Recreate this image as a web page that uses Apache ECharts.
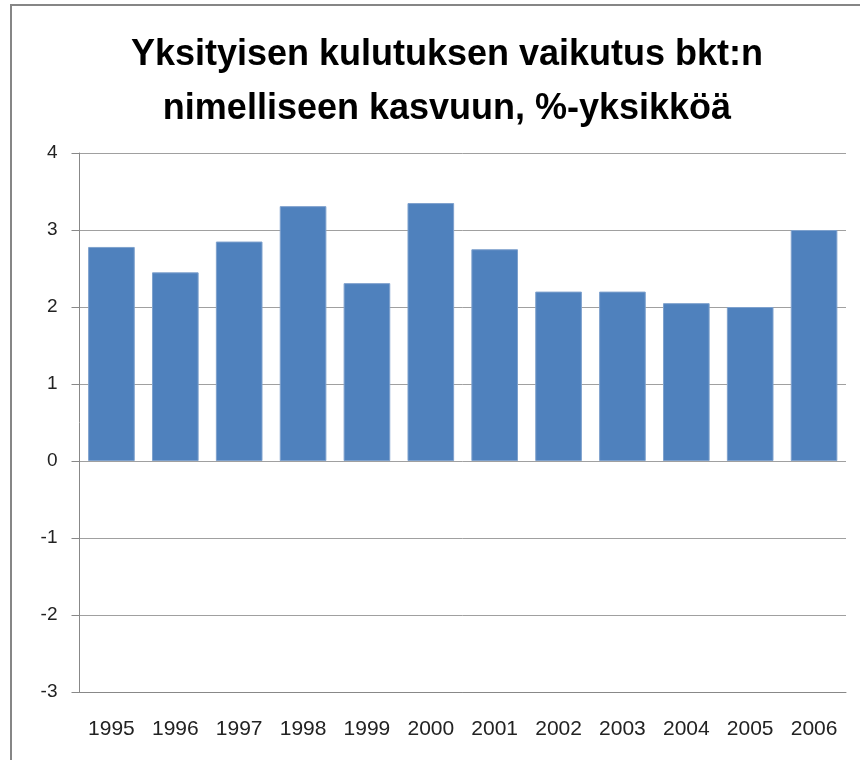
<!DOCTYPE html>
<html>
<head>
<meta charset="utf-8">
<script src="https://cdn.jsdelivr.net/npm/echarts@6/dist/echarts.min.js"></script>
<style>html,body{margin:0;padding:0;background:#fff}#c{width:860px;height:760px}</style>
</head>
<body>
<div id="c"></div>
<script>
var titleLines = ['Yksityisen kulutuksen vaikutus bkt:n', 'nimelliseen kasvuun, %-yksikköä'];
var years = ['1995','1996','1997','1998','1999','2000','2001','2002','2003','2004','2005','2006'];
var values = [2.78, 2.45, 2.85, 3.31, 2.31, 3.35, 2.75, 2.20, 2.20, 2.05, 2.00, 3.00];
var yMin = -3, yMax = 4, yStep = 1;

var chart = echarts.init(document.getElementById('c'), null, {renderer:'canvas'});
chart.setOption({
  animation: false,
  backgroundColor: '#fff',
  graphic: [
    {type:'line', shape:{x1:11, y1:5, x2:11, y2:760}, style:{stroke:'#868686', lineWidth:2}},
    {type:'line', shape:{x1:10, y1:5, x2:860, y2:5}, style:{stroke:'#868686', lineWidth:2}}
  ],
  title: {
    text: titleLines.join('\n'),
    left: 442, top: 23, textAlign: 'center',
    textStyle: {fontFamily:'Liberation Sans', fontWeight:'bold', fontSize:36, lineHeight:54, color:'#000'}
  },
  grid: {left:79.5, right:14, top:153, bottom:68, containLabel:false},
  xAxis: {
    type:'category', data: years,
    axisLine:{show:true, onZero:false, lineStyle:{color:'#888', width:1}},
    axisTick:{show:false},
    axisLabel:{fontFamily:'Liberation Sans', fontSize:21, color:'#222', margin:27, interval:0}
  },
  yAxis: {
    type:'value', min:yMin, max:yMax, interval:yStep,
    axisLine:{show:true, lineStyle:{color:'#888'}},
    axisTick:{show:true, length:8, lineStyle:{color:'#888'}},
    splitLine:{show:true, lineStyle:{color:'#a0a0a0', width:1}},
    axisLabel:{fontFamily:'Liberation Sans', fontSize:19, color:'#222', margin:22}
  },
  series: [{
    type:'bar', data: values, barCategoryGap:'27%',
    itemStyle:{color:'#4f81bd', borderColor:'#7ea1cd', borderWidth:1}
  }]
});
</script>
</body>
</html>
